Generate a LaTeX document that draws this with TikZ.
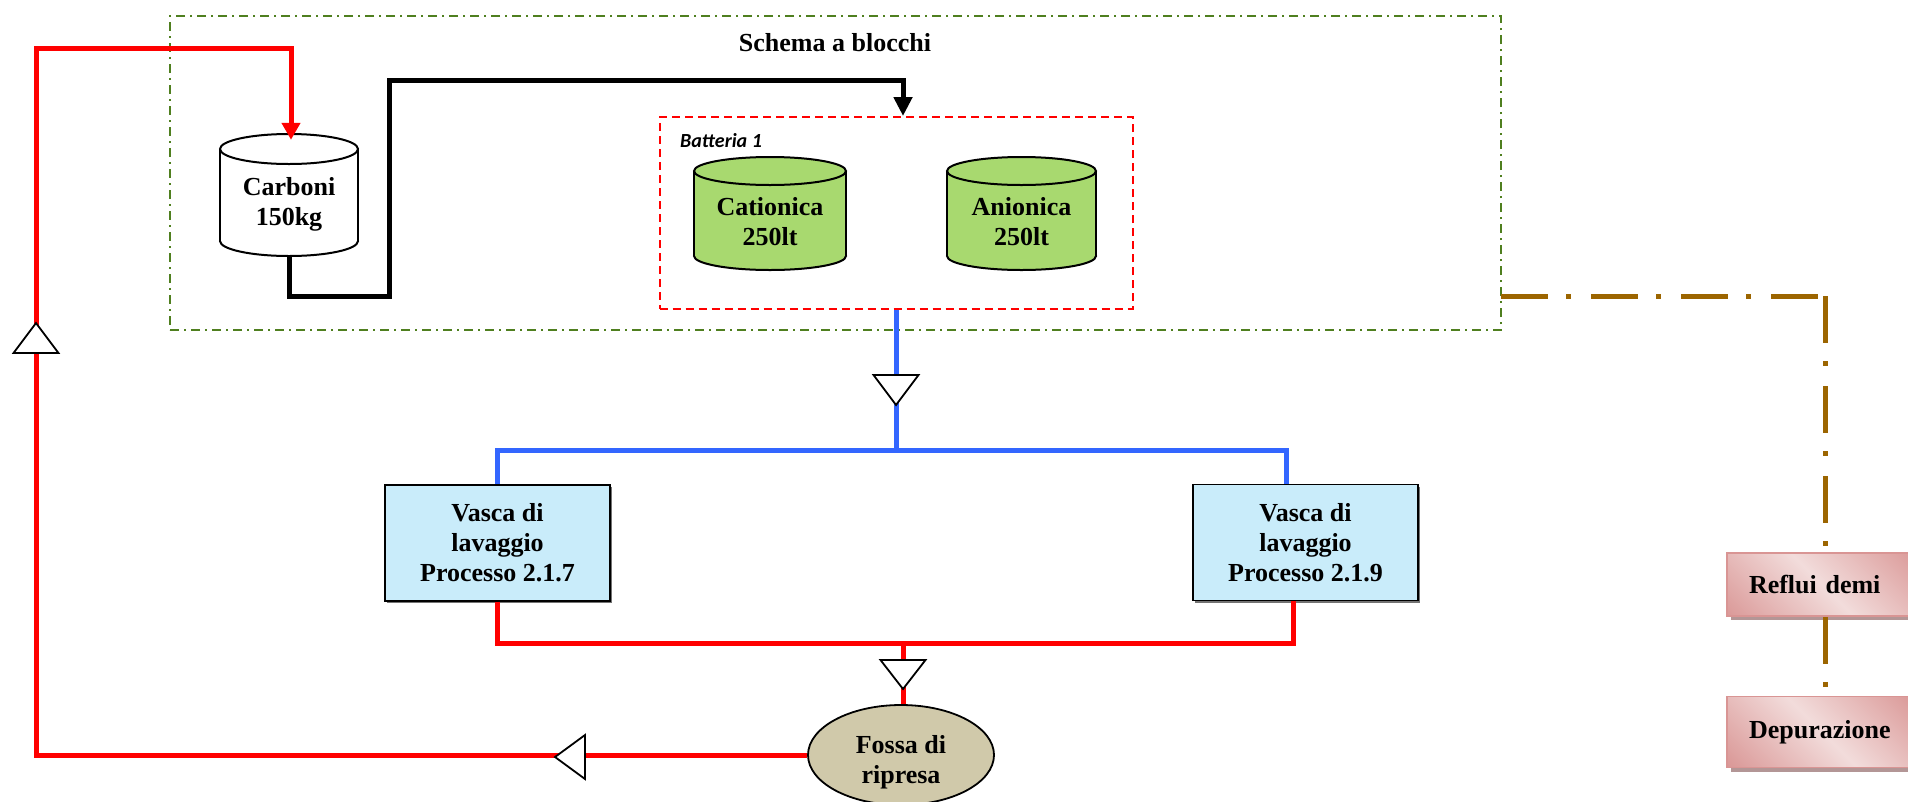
\documentclass[tikz,border=0pt]{standalone}
\usepackage{fontspec}
\setmainfont{Liberation Serif}
\newfontfamily\calibri{Carlito}
\usetikzlibrary{arrows.meta,shadows,calc,shapes.geometric}

\definecolor{redc}{HTML}{FF0000}
\definecolor{bluec}{HTML}{3366FF}
\definecolor{greenc}{HTML}{4F7F1F}
\definecolor{cylg}{HTML}{A8D96F}
\definecolor{vascac}{HTML}{C9ECFA}
\definecolor{fossac}{HTML}{D0C9AA}
\definecolor{brownc}{HTML}{9C6500}
\definecolor{pinkd}{HTML}{D99594}
\definecolor{pinkl}{HTML}{F2DCDB}
\definecolor{shadc}{HTML}{B39696}

\newcommand\mycyl[6]{%
  \pgfmathsetmacro\cyltop{#2+#5}%
  \pgfmathsetmacro\cylbot{#2+#4-#5}%
  \filldraw[fill=#6, line width=2pt] (#1,\cylbot) ellipse[x radius=#3pt, y radius=#5pt];
  \fill[#6] (#1-#3,\cyltop) rectangle (#1+#3,\cylbot);
  \draw[line width=2pt] (#1-#3,\cyltop) -- (#1-#3,\cylbot) (#1+#3,\cyltop) -- (#1+#3,\cylbot);
  \filldraw[fill=#6, line width=2pt] (#1,\cyltop) ellipse[x radius=#3pt, y radius=#5pt];
}

\tikzset{
  txt/.style={font=\fontsize{26}{30}\selectfont\bfseries, align=center, inner sep=0pt},
  boxarea/.style={inner sep=0pt, draw=none},
  schemabox/.style={draw=greenc, line width=1.8pt, dash pattern=on 9pt off 5pt on 2pt off 5pt,
     minimum width=1331pt, minimum height=314pt, inner sep=0pt},
  battbox/.style={draw=redc, line width=2pt, dash pattern=on 8pt off 5pt,
     minimum width=473pt, minimum height=192pt, inner sep=0pt},
  vasca/.style={txt, draw=black, line width=1.6pt, fill=vascac, minimum width=225pt, minimum height=116pt,
     drop shadow={shadow xshift=2pt, shadow yshift=-2pt, fill=black!55, opacity=1}},
  fossast/.style={ellipse, draw=black, line width=1.8pt, fill=fossac, minimum width=186pt, minimum height=100pt, inner sep=0pt},
  pinkbox/.style={txt, align=left, text width=146pt, inner xsep=22pt, inner ysep=0pt, draw=pinkd, line width=1.5pt,
     fill=pinkl,
     path picture={\shade[shading=axis, top color=pinkd, bottom color=pinkd, middle color=pinkl, shading angle=-45]
        ([shift={(-95pt,-95pt)}]path picture bounding box.center) rectangle ([shift={(95pt,95pt)}]path picture bounding box.center);},
     drop shadow={shadow xshift=4pt, shadow yshift=-4pt, fill=shadc, opacity=1}},
  redline/.style={draw=redc, line width=5pt},
  blueline/.style={draw=bluec, line width=5pt},
  blackline/.style={draw=black, line width=5pt},
  brownline/.style={draw=brownc, line width=5pt, dash pattern=on 47pt off 18pt on 5pt off 20pt},
  valve/.style={draw=black, fill=white, line width=1.8pt, line join=miter},
}

\begin{document}
\begin{tikzpicture}[x=1pt,y=-1pt]
\useasboundingbox (0,0) rectangle (1908,801);

% containers
\node[schemabox] (schema) at (835.5,173) {};
\node[txt] (title) at (835,43) {Schema a blocchi};
\node[battbox] (batt) at (896,213) {};
\node[font=\calibri\fontsize{20}{24}\selectfont\bfseries\itshape, anchor=base west, inner sep=0pt] (battlbl) at (680,147) {Batteria 1};

% cylinders
\node[boxarea, minimum width=138pt, minimum height=122pt] (carb) at (289,195) {};
\mycyl{289}{134}{69}{122}{15}{white}
\node[txt] (carbt) at (289,204) {Carboni\\150kg};

\node[boxarea, minimum width=152pt, minimum height=113pt] (cat) at (770,213.5) {};
\mycyl{770}{157}{76}{113}{14}{cylg}
\node[txt] (catt) at (770,222) {Cationica\\250lt};

\node[boxarea, minimum width=149pt, minimum height=113pt] (ani) at (1021.5,213.5) {};
\mycyl{1021.5}{157}{74.5}{113}{14}{cylg}
\node[txt] (anit) at (1021.5,222) {Anionica\\250lt};

% process boxes
\node[vasca] (v1) at (497.5,543) {Vasca di\\lavaggio\\Processo 2.1.7};
\node[vasca] (v2) at (1305.5,542.5) {Vasca di\\lavaggio\\Processo 2.1.9};

\node[fossast] (fossa) at (901,755) {};
\node[txt] (fossat) at (901,762) {Fossa di\\ripresa};

\node[pinkbox, minimum height=63pt] (reflui) at (1822,584.5) {Reflui demi};
\node[pinkbox, minimum height=71pt] (depur) at (1822,732) {Depurazione};

% black connector
\coordinate (k1) at (389,296);
\coordinate (k2) at (389,80);
\coordinate (k3) at (903,80);
\draw[blackline, -{Triangle[width=18pt,length=19pt]}] (carb.south) |- (k1) -- (k2) -- (k3) -- (k3 |- batt.north);

% red return loop
\coordinate (L2) at (36,48);
\coordinate (L3) at (291,48);
\draw[redline, -{Triangle[width=18pt,length=17pt]}] (fossa.west) -| (L2) -- (L3) -- ($(L3 |- carb.north)+(0,6)$);

% red collector
\coordinate (rR) at (1293,643);
\coordinate (rj) at (903,643);
\draw[redline] (v1.south) |- (rR) -- (rR |- v2.south);
\draw[redline] (rj) -- (rj |- fossa.north);

% blue distribution
\coordinate (bL) at (496,450);
\coordinate (bR) at (1286,450);
\draw[blueline] (batt.south) -- (batt.south |- bL);
\draw[blueline] (v1.north) -- (v1.north |- bL) -- (bR) -- (bR |- v2.north);

% brown
\coordinate (b0) at (1501,296);
\coordinate (b1) at (1825,296);
\draw[brownline] (b0) -- (b1);
\draw[brownline] (b1) -- (b1 |- reflui.north);
\draw[brownline] (reflui.south -| b1) -- (b1 |- depur.north);

% valves
\filldraw[valve] (13.5,353) -- (58.5,353) -- (36,323) -- cycle;
\filldraw[valve] (873.5,375) -- (918.5,375) -- (896,405) -- cycle;
\filldraw[valve] (880.5,660) -- (925.5,660) -- (903,689) -- cycle;
\filldraw[valve] (585,735) -- (585,779) -- (555,757) -- cycle;
\end{tikzpicture}
\end{document}
